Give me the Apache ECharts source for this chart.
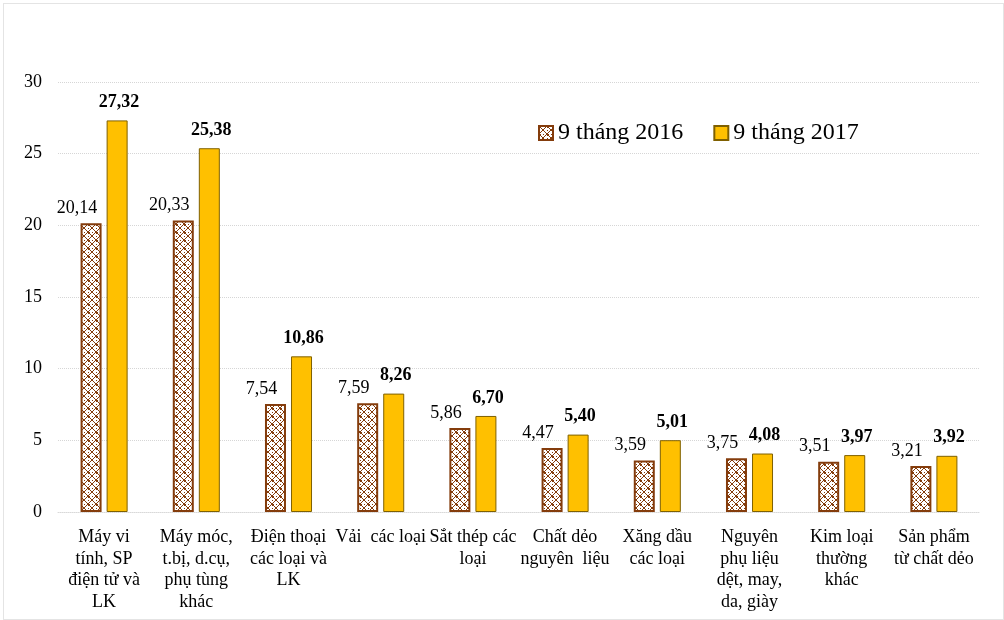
<!DOCTYPE html>
<html>
<head>
<meta charset="utf-8">
<script src="https://cdn.jsdelivr.net/npm/echarts@6/dist/echarts.min.js"></script>
<style>
html,body{margin:0;padding:0;background:#fff;}
#chart{width:1004px;height:620px;}
</style>
</head>
<body>
<div id="chart"></div>
<script>
const categories = [
  "Máy vi\ntính, SP\nđiện tử và\nLK",
  "Máy móc,\nt.bị, d.cụ,\nphụ tùng\nkhác",
  "Điện thoại\ncác loại và\nLK",
  "Vải  các loại",
  "Sắt thép các\nloại",
  "Chất dẻo\nnguyên  liệu",
  "Xăng dầu\ncác loại",
  "Nguyên\nphụ liệu\ndệt, may,\nda, giày",
  "Kim loại\nthường\nkhác",
  "Sản phẩm\ntừ chất dẻo"
];
const seriesNames = ["9 tháng 2016", "9 tháng 2017"];
const values2016 = [20.14, 20.33, 7.54, 7.59, 5.86, 4.47, 3.59, 3.75, 3.51, 3.21];
const values2017 = [27.32, 25.38, 10.86, 8.26, 6.70, 5.40, 5.01, 4.08, 3.97, 3.92];
const yTicks = {min: 0, max: 30, interval: 5};

// hatch pattern for 2016 series
function makePattern() {
  const c = document.createElement('canvas');
  c.width = 8; c.height = 8;
  const ctx = c.getContext('2d');
  ctx.fillStyle = '#ffffff';
  ctx.fillRect(0, 0, 8, 8);
  ctx.fillStyle = '#843C0C';
  const px = [
    [0,0],[1,1],[2,2],[3,3],[4,4],[5,5],[6,6],[7,7],
    [7,0],[6,1],[5,2],[4,3],[3,4],[2,5],[1,6],[0,7],
    [4,0],[0,4],[1,0],[0,1]
  ];
  px.forEach(p => ctx.fillRect(p[0], p[1], 1, 1));
  return c;
}
const patternColor = {image: makePattern(), repeat: 'repeat'};

const fmt = p => p.value.toFixed(2).replace('.', ',');
const serif = '"Liberation Serif", "DejaVu Serif", serif';

const chart = echarts.init(document.getElementById('chart'));
chart.setOption({
  backgroundColor: '#fff',
  animation: false,
  graphic: [{
    type: 'rect', left: 1, top: 1,
    shape: {width: 1000, height: 616},
    style: {fill: 'none', stroke: '#c8c8c8', lineWidth: 1, lineDash: [1, 1]},
    silent: true
  }],
  legend: {
    left: 533, top: 116,
    itemWidth: 14, itemHeight: 14, itemGap: 30,
    icon: 'rect',
    textStyle: {fontFamily: serif, fontSize: 24, color: '#000'},
    data: seriesNames
  },
  grid: {left: 58, right: 24, top: 82, bottom: 108, containLabel: false},
  xAxis: {
    type: 'category',
    data: categories,
    axisLine: {show: true, lineStyle: {color: '#d9d9d9', type: 'dotted'}},
    axisTick: {show: false},
    axisLabel: {
      interval: 0, margin: 15,
      fontFamily: serif, fontSize: 18, color: '#000', lineHeight: 21.5
    }
  },
  yAxis: {
    type: 'value',
    min: yTicks.min, max: yTicks.max, interval: yTicks.interval,
    axisLine: {show: false},
    axisTick: {show: false},
    splitLine: {lineStyle: {color: '#d6d6d6', type: 'dotted', width: 1}},
    axisLabel: {margin: 16, fontFamily: serif, fontSize: 18, color: '#000'}
  },
  series: [
    {
      name: seriesNames[0], type: 'bar', data: values2016,
      barWidth: 21, barGap: '24%', barCategoryGap: '48%',
      itemStyle: {color: patternColor, borderColor: '#843C0C', borderWidth: 2},
      label: {show: true, position: 'top', distance: 6, offset: [-14, 0], formatter: fmt,
        fontFamily: serif, fontSize: 18, color: '#000'}
    },
    {
      name: seriesNames[1], type: 'bar', data: values2017,
      barWidth: 21, barGap: '24%', barCategoryGap: '48%',
      itemStyle: {color: '#FFC000', borderColor: '#7F6000', borderWidth: 1},
      label: {show: true, position: 'top', distance: 9, offset: [2, 0], formatter: fmt,
        fontFamily: serif, fontSize: 18, fontWeight: 'bold', color: '#000'}
    }
  ]
});
</script>
</body>
</html>
